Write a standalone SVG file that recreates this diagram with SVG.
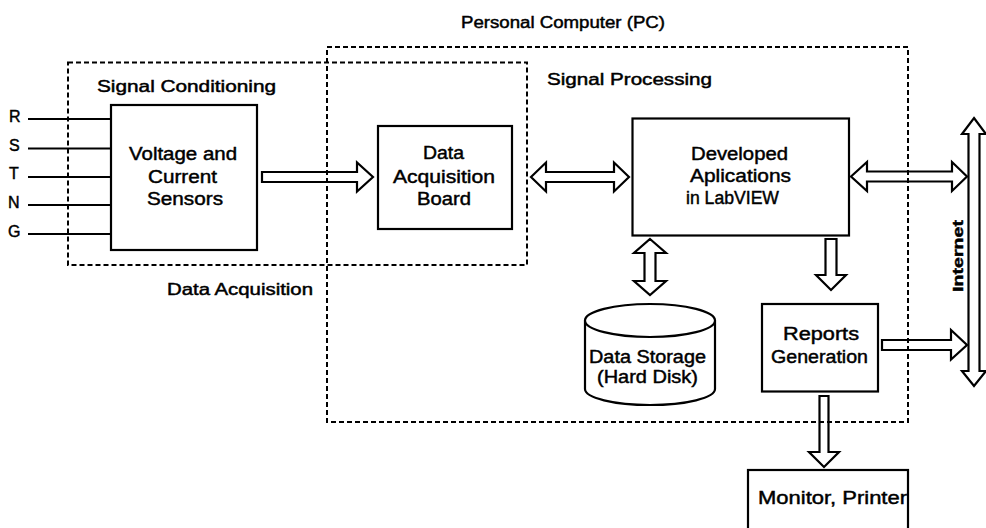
<svg xmlns="http://www.w3.org/2000/svg" width="986" height="528" viewBox="0 0 986 528">
<style>
text{font-family:"Liberation Sans",Arial,sans-serif;fill:#000;stroke:#000;stroke-width:0.45}
.lbl{font-size:16px}
.nt{font-size:18px}
.box{fill:#fff;stroke:#000;stroke-width:2.2}
.arr{fill:#fff;stroke:#000;stroke-width:2.2;stroke-linejoin:miter}
.wire{stroke:#000;stroke-width:2;fill:none}
.dash{fill:none;stroke:#000;stroke-width:2;stroke-dasharray:5 3}
</style>
<rect width="986" height="528" fill="#fff"/>

<g id="labels">
<text class="lbl" x="461" y="28" textLength="204" lengthAdjust="spacingAndGlyphs">Personal Computer (PC)</text>
<text class="lbl" x="97" y="92" textLength="179" lengthAdjust="spacingAndGlyphs">Signal Conditioning</text>
<text class="lbl" x="547" y="85" textLength="165" lengthAdjust="spacingAndGlyphs">Signal Processing</text>
<text class="lbl" x="167" y="295" textLength="146" lengthAdjust="spacingAndGlyphs">Data Acquisition</text>
<text class="lbl" x="9" y="122" font-size="17">R</text>
<text class="lbl" x="9" y="151" font-size="17">S</text>
<text class="lbl" x="9" y="179" font-size="17">T</text>
<text class="lbl" x="8" y="208" font-size="17">N</text>
<text class="lbl" x="8" y="237" font-size="17">G</text>
</g>

<g id="connectors">
<line class="wire" x1="28" y1="119" x2="111" y2="119"/>
<line class="wire" x1="28" y1="148.5" x2="111" y2="148.5"/>
<line class="wire" x1="28" y1="177" x2="111" y2="177" stroke-width="3.2"/>
<line class="wire" x1="28" y1="205" x2="111" y2="205"/>
<line class="wire" x1="28" y1="234" x2="111" y2="234"/>
<polygon class="arr" points="262,172 357,172 357,162.5 373,177 357,191.5 357,182 262,182"/>
<polygon class="arr" points="531,177 546,162.5 546,172 614,172 614,162.5 629,177 614,191.5 614,182 546,182 546,191.5"/>
<polygon class="arr" points="851,176.5 867,162 867,171.5 952,171.5 952,162 967,176.5 952,191 952,181.5 867,181.5 867,191"/>
<polygon class="arr" points="650,239 666,253 655.5,253 655.5,281 666,281 650,295 634,281 644.5,281 644.5,253 634,253"/>
<polygon class="arr" points="825.5,239 836.5,239 836.5,275 846,275 831,290 816,275 825.5,275"/>
<polygon class="arr" points="882,340 951,340 951,330 967,345 951,359.5 951,350 882,350"/>
<polygon class="arr" points="819.5,396 828.5,396 828.5,452 839,452 824,467 809,452 819.5,452"/>
<polygon class="arr" points="974,118 986,134 979.5,134 979.5,371 986,371 974,386 962,371 968.5,371 968.5,134 962,134"/>
</g>

<g id="internet">
<text x="963" y="256" transform="rotate(-90 963 256)" text-anchor="middle" font-size="15" font-weight="bold" textLength="72" lengthAdjust="spacingAndGlyphs" stroke-width="0.2">Internet</text>
</g>

<g id="sensors">
<rect class="box" x="111" y="105" width="146" height="145"/>
<text class="nt" x="129" y="160" textLength="108" lengthAdjust="spacingAndGlyphs">Voltage and</text>
<text class="nt" x="148" y="183" textLength="69" lengthAdjust="spacingAndGlyphs">Current</text>
<text class="nt" x="147" y="205" textLength="76" lengthAdjust="spacingAndGlyphs">Sensors</text>
</g>

<g id="daq-board">
<rect class="box" x="378" y="126" width="134" height="103"/>
<text class="nt" x="423" y="159" textLength="41" lengthAdjust="spacingAndGlyphs">Data</text>
<text class="nt" x="393" y="183" textLength="102" lengthAdjust="spacingAndGlyphs">Acquisition</text>
<text class="nt" x="417" y="205" textLength="54" lengthAdjust="spacingAndGlyphs">Board</text>
</g>

<g id="labview">
<rect class="box" x="632.5" y="118.5" width="216.5" height="117"/>
<text class="nt" x="691" y="160" textLength="97" lengthAdjust="spacingAndGlyphs">Developed</text>
<text class="nt" x="690" y="182" textLength="101" lengthAdjust="spacingAndGlyphs">Aplications</text>
<text class="nt" x="686" y="204" textLength="93" lengthAdjust="spacingAndGlyphs">in LabVIEW</text>
</g>

<g id="storage">
<path class="box" d="M585,320.5 L585,389 A65,16 0 0 0 715,389 L715,320.5"/>
<ellipse class="box" cx="650" cy="320.5" rx="65" ry="16.5"/>
<text class="nt" x="589" y="363" textLength="117" lengthAdjust="spacingAndGlyphs">Data Storage</text>
<text class="nt" x="597" y="383" textLength="101" lengthAdjust="spacingAndGlyphs">(Hard Disk)</text>
</g>

<g id="reports">
<rect class="box" x="762" y="304" width="116" height="87.5"/>
<text class="nt" x="783" y="340" textLength="76" lengthAdjust="spacingAndGlyphs">Reports</text>
<text class="nt" x="771" y="363" textLength="97" lengthAdjust="spacingAndGlyphs">Generation</text>
</g>

<g id="monitor">
<rect class="box" x="748" y="470" width="160" height="70"/>
<text class="nt" x="758" y="504" textLength="149" lengthAdjust="spacingAndGlyphs">Monitor, Printer</text>
</g>

<g id="regions">
<rect id="signal-conditioning" class="dash" x="68" y="62.5" width="459" height="202.5"/>
<rect id="pc" class="dash" x="327" y="47" width="581" height="375"/>
</g>
</svg>
